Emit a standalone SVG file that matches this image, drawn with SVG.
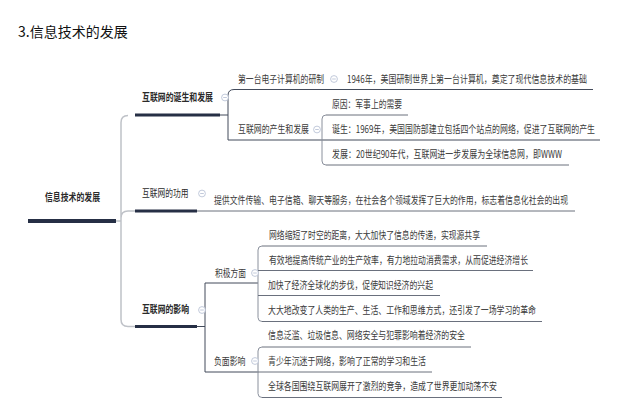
<svg xmlns="http://www.w3.org/2000/svg" width="620" height="417" viewBox="0 0 620 417">
<style>
text{font-family:"Noto Sans CJK SC","Liberation Sans",sans-serif;}
.title{font-size:14px;fill:#111;}
.root{font-size:10.5px;font-weight:bold;fill:#2a2a2a;}
.l1{font-size:10.5px;font-weight:bold;fill:#2a2a2a;}
.l1n{font-size:10.5px;fill:#2a2a2a;}
.t{font-size:10.5px;fill:#3a3a3a;}
.bar{stroke:#262f45;stroke-width:3;fill:none;}
.rootbar{stroke:#262f45;stroke-width:4;fill:none;}
.trunk{stroke:#bfc2c8;stroke-width:1.5;fill:none;}
.dk{stroke:#434b5b;stroke-width:1;fill:none;}
.ln{stroke:#6a707d;stroke-width:1;fill:none;}
.br{stroke:#8a909c;stroke-width:1;fill:none;}
.ic circle{fill:#fff;stroke:#b3bcd2;stroke-width:0.8;}
.ic line{stroke:#b3bcd2;stroke-width:0.8;}
</style>
<defs>
<g id="icon" class="ic"><circle cx="0" cy="0" r="3.4"/><line x1="-1.8" y1="0" x2="1.8" y2="0"/></g>
</defs>
<text class="title" x="18" y="37">3.信息技术的发展</text>
<g id="connectors">
<path class="trunk" d="M116,221 H121 M128,115.5 Q121,115.5 121,122.5 V319.5 Q121,326.5 128,326.5 H135 M121,218 Q121,211 128,211 H135"/>
<path class="dk" d="M220,115 H228 M234,89.5 Q228,89.5 228,95.5 V140 M197,326.5 H205 M205,283 V372 M205,283 H258 M205,372 H258"/>
<path class="dk" d="M234,89.5 H593 M228,140 H600"/>
<path class="br" d="M326,115 Q322,115 322,119 V161 Q322,165 326,165"/>
<path class="ln" d="M326,115 H408 M326,165 H569 M197,211 H575"/>
<path class="br" d="M262,246 Q258,246 258,250 V317.5 Q258,321.5 262,321.5"/>
<path class="ln" d="M262,246 H487 M258,270.5 H533 M258,295.5 H440 M262,321.5 H542"/>
<path class="br" d="M262,347 Q258,347 258,351 V393.5 Q258,397.5 262,397.5"/>
<path class="ln" d="M262,347 H471 M258,372 H432 M262,397.5 H502"/>
</g>
<g id="root"><text class="root" transform="matrix(0.76,0,0,1,45,201)" textLength="72.4" lengthAdjust="spacingAndGlyphs">信息技术的发展</text><path class="rootbar" d="M28,221 H116"/></g>
<g id="b1"><text class="l1" transform="matrix(0.76,0,0,1,142,101)" textLength="93.4" lengthAdjust="spacingAndGlyphs">互联网的诞生和发展</text><path class="bar" d="M135,115 H220"/><use href="#icon" x="225" y="97.5"/></g>
<g id="b1a"><text class="t" transform="matrix(0.76,0,0,1,238,83)" textLength="113.2" lengthAdjust="spacingAndGlyphs">第一台电子计算机的研制</text><use href="#icon" x="334" y="79"/></g>
<g id="b1a1"><text class="t" transform="matrix(0.76,0,0,1,347,83)" textLength="315.8" lengthAdjust="spacingAndGlyphs">1946年，美国研制世界上第一台计算机，奠定了现代信息技术的基础</text></g>
<g id="b1b"><text class="t" transform="matrix(0.76,0,0,1,238,133)" textLength="93.4" lengthAdjust="spacingAndGlyphs">互联网的产生和发展</text><use href="#icon" x="317" y="129.5"/></g>
<g id="b1b1"><text class="t" transform="matrix(0.76,0,0,1,332,108)" textLength="92.1" lengthAdjust="spacingAndGlyphs">原因：军事上的需要</text></g>
<g id="b1b2"><text class="t" transform="matrix(0.76,0,0,1,332,133)" textLength="346" lengthAdjust="spacingAndGlyphs">诞生：1969年，美国国防部建立包括四个站点的网络，促进了互联网的产生</text></g>
<g id="b1b3"><text class="t" transform="matrix(0.76,0,0,1,332,158)" textLength="302.6" lengthAdjust="spacingAndGlyphs">发展：20世纪90年代，互联网进一步发展为全球信息网，即WWW</text></g>
<g id="b2"><text class="l1n" transform="matrix(0.76,0,0,1,142,197)" textLength="61.2" lengthAdjust="spacingAndGlyphs">互联网的功用</text><path class="bar" d="M135,211 H197"/><use href="#icon" x="202" y="193.5"/></g>
<g id="b2a"><text class="t" transform="matrix(0.76,0,0,1,214,204)" textLength="465.8" lengthAdjust="spacingAndGlyphs">提供文件传输、电子信箱、聊天等服务，在社会各个领域发挥了巨大的作用，标志着信息化社会的出现</text></g>
<g id="b3"><text class="l1" transform="matrix(0.76,0,0,1,142,313)" textLength="61.8" lengthAdjust="spacingAndGlyphs">互联网的影响</text><path class="bar" d="M135,326.5 H197"/><use href="#icon" x="202" y="310"/></g>
<g id="b3a"><text class="t" transform="matrix(0.76,0,0,1,215,277)" textLength="40.8" lengthAdjust="spacingAndGlyphs">积极方面</text><use href="#icon" x="255" y="273"/></g>
<g id="b3a1"><text class="t" transform="matrix(0.76,0,0,1,269,239)" textLength="277.6" lengthAdjust="spacingAndGlyphs">网络缩短了时空的距离，大大加快了信息的传递，实现源共享</text></g>
<g id="b3a2"><text class="t" transform="matrix(0.76,0,0,1,269,264)" textLength="340.8" lengthAdjust="spacingAndGlyphs">有效地提高传统产业的生产效率，有力地拉动消费需求，从而促进经济增长</text></g>
<g id="b3a3"><text class="t" transform="matrix(0.76,0,0,1,268,289)" textLength="217.1" lengthAdjust="spacingAndGlyphs">加快了经济全球化的步伐，促使知识经济的兴起</text></g>
<g id="b3a4"><text class="t" transform="matrix(0.76,0,0,1,268,314)" textLength="352.6" lengthAdjust="spacingAndGlyphs">大大地改变了人类的生产、生活、工作和思维方式，还引发了一场学习的革命</text></g>
<g id="b3b"><text class="t" transform="matrix(0.76,0,0,1,214,365)" textLength="41.4" lengthAdjust="spacingAndGlyphs">负面影响</text><use href="#icon" x="255" y="361"/></g>
<g id="b3b1"><text class="t" transform="matrix(0.76,0,0,1,268,339)" textLength="259.2" lengthAdjust="spacingAndGlyphs">信息泛滥、垃圾信息、网络安全与犯罪影响着经济的安全</text></g>
<g id="b3b2"><text class="t" transform="matrix(0.76,0,0,1,268,365)" textLength="207.9" lengthAdjust="spacingAndGlyphs">青少年沉迷于网络，影响了正常的学习和生活</text></g>
<g id="b3b3"><text class="t" transform="matrix(0.76,0,0,1,268,390)" textLength="301.3" lengthAdjust="spacingAndGlyphs">全球各国围绕互联网展开了激烈的竞争，造成了世界更加动荡不安</text></g>
</svg>
